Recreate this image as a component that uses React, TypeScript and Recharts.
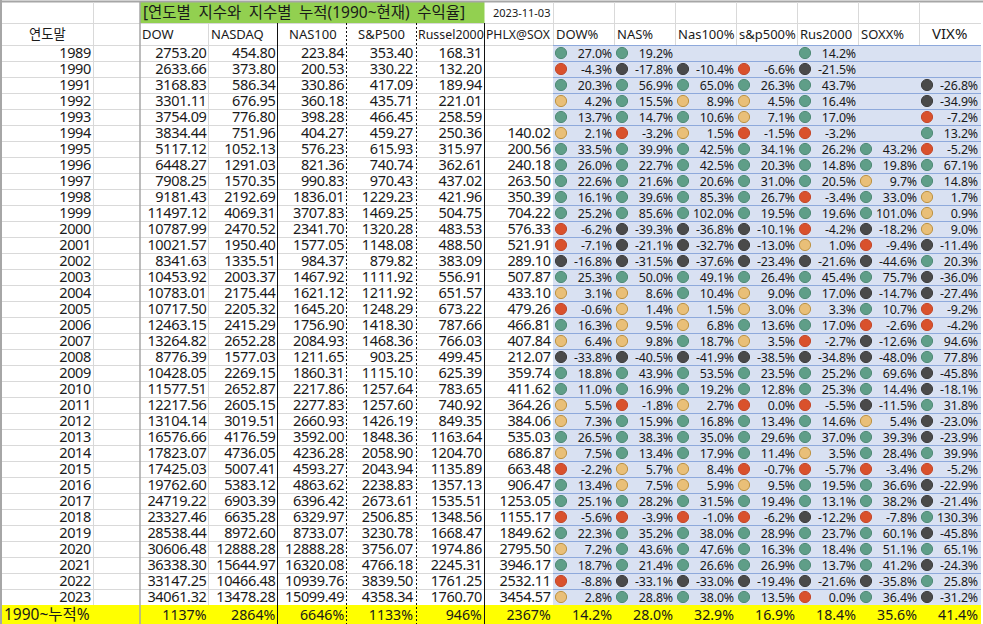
import { ScatterChart, Scatter, XAxis, YAxis, ReferenceArea, ReferenceLine } from 'recharts';

const years = [1989, 1990, 1991, 1992, 1993, 1994, 1995, 1996, 1997, 1998, 1999, 2000, 2001, 2002, 2003, 2004, 2005, 2006, 2007, 2008, 2009, 2010, 2011, 2012, 2013, 2014, 2015, 2016, 2017, 2018, 2019, 2020, 2021, 2022, 2023];

const dow = [2753.20, 2633.66, 3168.83, 3301.11, 3754.09, 3834.44, 5117.12, 6448.27, 7908.25, 9181.43, 11497.12, 10787.99, 10021.57, 8341.63, 10453.92, 10783.01, 10717.50, 12463.15, 13264.82, 8776.39, 10428.05, 11577.51, 12217.56, 13104.14, 16576.66, 17823.07, 17425.03, 19762.60, 24719.22, 23327.46, 28538.44, 30606.48, 36338.30, 33147.25, 34061.32];
const nasdaq = [454.80, 373.80, 586.34, 676.95, 776.80, 751.96, 1052.13, 1291.03, 1570.35, 2192.69, 4069.31, 2470.52, 1950.40, 1335.51, 2003.37, 2175.44, 2205.32, 2415.29, 2652.28, 1577.03, 2269.15, 2652.87, 2605.15, 3019.51, 4176.59, 4736.05, 5007.41, 5383.12, 6903.39, 6635.28, 8972.60, 12888.28, 15644.97, 10466.48, 13478.28];
const nas100 = [223.84, 200.53, 330.86, 360.18, 398.28, 404.27, 576.23, 821.36, 990.83, 1836.01, 3707.83, 2341.70, 1577.05, 984.37, 1467.92, 1621.12, 1645.20, 1756.90, 2084.93, 1211.65, 1860.31, 2217.86, 2277.83, 2660.93, 3592.00, 4236.28, 4593.27, 4863.62, 6396.42, 6329.97, 8733.07, 12888.28, 16320.08, 10939.76, 15099.49];
const sp500 = [353.40, 330.22, 417.09, 435.71, 466.45, 459.27, 615.93, 740.74, 970.43, 1229.23, 1469.25, 1320.28, 1148.08, 879.82, 1111.92, 1211.92, 1248.29, 1418.30, 1468.36, 903.25, 1115.10, 1257.64, 1257.60, 1426.19, 1848.36, 2058.90, 2043.94, 2238.83, 2673.61, 2506.85, 3230.78, 3756.07, 4766.18, 3839.50, 4358.34];
const russel = [168.31, 132.20, 189.94, 221.01, 258.59, 250.36, 315.97, 362.61, 437.02, 421.96, 504.75, 483.53, 488.50, 383.09, 556.91, 651.57, 673.22, 787.66, 766.03, 499.45, 625.39, 783.65, 740.92, 849.35, 1163.64, 1204.70, 1135.89, 1357.13, 1535.51, 1348.56, 1668.47, 1974.86, 2245.31, 1761.25, 1760.70];
const sox = [null, null, null, null, null, 140.02, 200.56, 240.18, 263.50, 350.39, 704.22, 576.33, 521.91, 289.10, 507.87, 433.10, 479.26, 466.81, 407.84, 212.07, 359.74, 411.62, 364.26, 384.06, 535.03, 686.87, 663.48, 906.47, 1253.05, 1155.17, 1849.62, 2795.50, 3946.17, 2532.11, 3454.57];

// -0 = slightly negative year that rounds to 0.0% (gets the red icon)
const dowPct = [27.0, -4.3, 20.3, 4.2, 13.7, 2.1, 33.5, 26.0, 22.6, 16.1, 25.2, -6.2, -7.1, -16.8, 25.3, 3.1, -0.6, 16.3, 6.4, -33.8, 18.8, 11.0, 5.5, 7.3, 26.5, 7.5, -2.2, 13.4, 25.1, -5.6, 22.3, 7.2, 18.7, -8.8, 2.8];
const nasPct = [19.2, -17.8, 56.9, 15.5, 14.7, -3.2, 39.9, 22.7, 21.6, 39.6, 85.6, -39.3, -21.1, -31.5, 50.0, 8.6, 1.4, 9.5, 9.8, -40.5, 43.9, 16.9, -1.8, 15.9, 38.3, 13.4, 5.7, 7.5, 28.2, -3.9, 35.2, 43.6, 21.4, -33.1, 28.8];
const nas100Pct = [null, -10.4, 65.0, 8.9, 10.6, 1.5, 42.5, 42.5, 20.6, 85.3, 102.0, -36.8, -32.7, -37.6, 49.1, 10.4, 1.5, 6.8, 18.7, -41.9, 53.5, 19.2, 2.7, 16.8, 35.0, 17.9, 8.4, 5.9, 31.5, -1.0, 38.0, 47.6, 26.6, -33.0, 38.0];
const spPct = [null, -6.6, 26.3, 4.5, 7.1, -1.5, 34.1, 20.3, 31.0, 26.7, 19.5, -10.1, -13.0, -23.4, 26.4, 9.0, 3.0, 13.6, 3.5, -38.5, 23.5, 12.8, -0, 13.4, 29.6, 11.4, -0.7, 9.5, 19.4, -6.2, 28.9, 16.3, 26.9, -19.4, 13.5];
const rusPct = [14.2, -21.5, 43.7, 16.4, 17.0, -3.2, 26.2, 14.8, 20.5, -3.4, 19.6, -4.2, 1.0, -21.6, 45.4, 17.0, 3.3, 17.0, -2.7, -34.8, 25.2, 25.3, -5.5, 14.6, 37.0, 3.5, -5.7, 19.5, 13.1, -12.2, 23.7, 18.4, 13.7, -21.6, -0];
const soxxPct = [null, null, null, null, null, null, 43.2, 19.8, 9.7, 33.0, 101.0, -18.2, -9.4, -44.6, 75.7, -14.7, 10.7, -2.6, -12.6, -48.0, 69.6, 14.4, -11.5, 5.4, 39.3, 28.4, -3.4, 36.6, 38.2, -7.8, 60.1, 51.1, 41.2, -35.8, 36.4];
const vixPct = [null, null, -26.8, -34.9, -7.2, 13.2, -5.2, 67.1, 14.8, 1.7, 0.9, 9.0, -11.4, 20.3, -36.0, -27.4, -9.2, -4.2, 94.6, 77.8, -45.8, -18.1, 31.8, -23.0, -23.9, 39.9, -5.2, -22.9, -21.4, 130.3, -45.8, 65.1, -24.3, 25.8, -31.2];

const cumulative = [1137, 2864, 6646, 1133, 946, 2367];
const cagr = [14.2, 28.0, 32.9, 16.9, 18.4, 35.6, 41.4];

const indexHeaders = ['DOW', 'NASDAQ', 'NAS100', 'S&P500', 'Russel2000', 'PHLX@SOX'];
const pctHeaders = ['DOW%', 'NAS%', 'Nas100%', 's&p500%', 'Rus2000', 'SOXX%', 'VIX%'];
const title = '[연도별 지수와 지수별 누적(1990~현재) 수익율]';
const asOf = '2023-11-03';
const yearHeader = '연도말';
const totalLabel = '1990~누적%';

const indexColumns = [dow, nasdaq, nas100, sp500, russel, sox];
const pctColumns = [dowPct, nasPct, nas100Pct, spPct, rusPct, soxxPct, vixPct];

const W = 983;
const H = 624;
const TOP = 45; // first data row
const ROW = 16;
const ROWS_TOTAL = (H - TOP) / ROW;
const TOTAL_ROW_Y = 35.6;
const IDX_L = 140;
const PCT_L = 553;
const PCT_R = 980;
const FONT = '"Noto Sans", "Noto Sans CJK KR", sans-serif';
const INK = '#1a1a1a';
const GRID = '#d9d9d9';
const EDGE = '#a6a6a6';
const BLUE_LINE = '#8ea9db';

const indexHeaderX = [142, 211, 289, 358, 418, 486];
const indexHeaderSize = [13, 13, 13, 13, 12.4, 12.2];
const pctHeaderX = [556, 617, 678, 739, 800, 861, 932];
const pctHeaderSize = [13, 13, 13, 13, 13, 13, 15];

const iconColor = (v: number) => {
  if (v >= 10) return { fill: '#5f9e88', stroke: '#4f8a76' };
  if (v > 0) return { fill: '#e9bf78', stroke: '#bd9343' };
  if (v >= -10) return { fill: '#d9512c', stroke: '#c4482a' };
  return { fill: '#4a4a4a', stroke: '#3d3d3d' };
};

const gridRows = years.map((_, i) => i);

const points = (col: number, values: (number | null)[]) =>
  values.map((value, row) => ({ x: col, y: row + 0.5, value })).filter((d) => d.value !== null);

const yearPoints = years.map((year, row) => ({ x: 91, y: row + 0.5, value: year }));

const NumberCell = (p: any) => (
  <text x={p.cx - 2.3} y={p.cy + 5} textAnchor="end" fontFamily={FONT} fontSize={14.5} letterSpacing={-0.35} fill={INK}>
    {p.payload.value.toFixed(2)}
  </text>
);

const PctCell = (p: any) => {
  const c = iconColor(p.payload.value);
  return (
    <g>
      <circle cx={p.cx + 8} cy={p.cy} r={5.6} fill={c.fill} stroke={c.stroke} strokeWidth={1} />
      <text x={p.cx + 59} y={p.cy + 4.5} textAnchor="end" fontFamily={FONT} fontSize={12.4} letterSpacing={-0.15} fill={INK}>
        {p.payload.value.toFixed(1)}%
      </text>
    </g>
  );
};

const YearCell = (p: any) => (
  <text x={p.cx} y={p.cy + 5} textAnchor="end" fontFamily={FONT} fontSize={14.5} letterSpacing={-0.35} fill={INK}>
    {p.payload.value}
  </text>
);

// plain label, drawn by a Scatter so it sits above the filled reference areas
const Label = (p: any) => (
  <text
    x={p.cx + (p.payload.dx ?? 0)}
    y={p.cy + (p.payload.dy ?? 5)}
    textAnchor={p.payload.anchor ?? 'start'}
    fontFamily={FONT}
    fontSize={p.payload.size}
    wordSpacing={p.payload.wordSpacing}
    fill={INK}
  >
    {p.payload.text}
  </text>
);

const pxLabels = [
  { x: 143, y: 13, text: title, size: 15.5, wordSpacing: 3.5 },
  { x: 493, y: 13, text: asOf, size: 11, dy: 4 },
  { x: 29, y: 34, text: yearHeader, size: 13.3 },
  { x: 4, y: 614.6, text: totalLabel, size: 15.5 },
  ...indexHeaders.map((text, i) => ({ x: indexHeaderX[i], y: 34, text, size: indexHeaderSize[i] })),
  ...pctHeaders.map((text, i) => ({ x: pctHeaderX[i], y: 34, text, size: pctHeaderSize[i] })),
];
const totalIndexLabels = cumulative.map((v, i) => ({ x: i + 1, y: TOTAL_ROW_Y, text: `${v}%`, size: 14.2, anchor: 'end', dx: -2.3 }));
const totalPctLabels = cagr.map((v, i) => ({ x: i, y: TOTAL_ROW_Y, text: `${v.toFixed(1)}%`, size: 14.2, anchor: 'end', dx: 59 }));

const line = (x1: number, y1: number, x2: number, y2: number, stroke: string, extra: any = {}) => (
  <ReferenceLine
    key={`${x1}-${y1}-${x2}-${y2}`}
    xAxisId="px"
    yAxisId="px"
    segment={[{ x: x1, y: y1 }, { x: x2, y: y2 }]}
    stroke={stroke}
    ifOverflow="visible"
    {...extra}
  />
);

export default function App() {
  return (
    <div style={{ position: 'absolute', left: 0, top: 0, width: W, height: H, background: '#fff', overflow: 'hidden' }}>
      <ScatterChart width={W} height={H} margin={{ top: 0, right: 0, bottom: 0, left: 0 }}>
        <XAxis xAxisId="px" type="number" dataKey="x" domain={[0, W]} hide allowDataOverflow />
        <XAxis xAxisId="idx" type="number" dataKey="x" domain={[0, 6]} padding={{ left: IDX_L, right: W - PCT_L }} hide allowDataOverflow />
        <XAxis xAxisId="pct" type="number" dataKey="x" domain={[0, 7]} padding={{ left: PCT_L, right: W - PCT_R }} hide allowDataOverflow />
        <YAxis yAxisId="px" type="number" dataKey="y" domain={[0, H]} reversed hide allowDataOverflow />
        <YAxis yAxisId="row" type="number" dataKey="y" domain={[0, ROWS_TOTAL]} padding={{ top: TOP, bottom: 0 }} reversed hide allowDataOverflow />

        <ReferenceArea xAxisId="px" yAxisId="px" x1={PCT_L} x2={981} y1={TOP} y2={605} fill="#d9e1f2" fillOpacity={1} stroke="none" />
        <ReferenceArea xAxisId="px" yAxisId="px" x1={IDX_L} x2={484.5} y1={2} y2={23} fill="#92d050" fillOpacity={1} stroke="none" />
        <ReferenceArea xAxisId="px" yAxisId="px" x1={0} x2={981} y1={605} y2={H} fill="#ffff00" fillOpacity={1} stroke="none" />

        {gridRows.map((r) => line(0, TOP + r * ROW + 0.5, PCT_L, TOP + r * ROW + 0.5, GRID))}
        {gridRows.map((r) => line(PCT_L, TOP + r * ROW + 0.5, 981, TOP + r * ROW + 0.5, BLUE_LINE))}
        {line(0, 23.5, 981, 23.5, GRID)}
        {line(0, 1.5, W, 1.5, EDGE, { strokeWidth: 2 })}
        {line(1, 0, 1, H, EDGE, { strokeWidth: 2 })}
        {line(93.5, 2, 93.5, 605, GRID)}
        {line(208.5, 23, 208.5, 605, GRID)}
        {line(553.5, 2, 553.5, TOP, GRID)}
        {line(614.5, 2, 614.5, TOP, GRID)}
        {line(675.5, 2, 675.5, TOP, GRID)}
        {line(736.5, 2, 736.5, TOP, GRID)}
        {line(797.5, 2, 797.5, TOP, GRID)}
        {line(858.5, 2, 858.5, TOP, GRID)}
        {line(919.5, 2, 919.5, TOP, GRID)}
        {line(140, 2, 140, H, EDGE, { strokeWidth: 1.5 })}
        {line(277.5, 23, 277.5, H, '#111')}
        {line(346.5, 23, 346.5, H, '#111', { strokeDasharray: '2 2' })}
        {line(416.5, 23, 416.5, H, '#111', { strokeDasharray: '2 2' })}
        {line(484.5, 23, 484.5, H, '#111')}

        <Scatter xAxisId="px" yAxisId="row" data={yearPoints} shape={YearCell} isAnimationActive={false} />
        {indexColumns.map((values, col) => (
          <Scatter key={col} xAxisId="idx" yAxisId="row" data={points(col + 1, values)} shape={NumberCell} isAnimationActive={false} />
        ))}
        {pctColumns.map((values, col) => (
          <Scatter key={col} xAxisId="pct" yAxisId="row" data={points(col, values)} shape={PctCell} isAnimationActive={false} />
        ))}
        <Scatter xAxisId="px" yAxisId="px" data={pxLabels} shape={Label} isAnimationActive={false} />
        <Scatter xAxisId="idx" yAxisId="row" data={totalIndexLabels} shape={Label} isAnimationActive={false} />
        <Scatter xAxisId="pct" yAxisId="row" data={totalPctLabels} shape={Label} isAnimationActive={false} />
      </ScatterChart>
    </div>
  );
}
